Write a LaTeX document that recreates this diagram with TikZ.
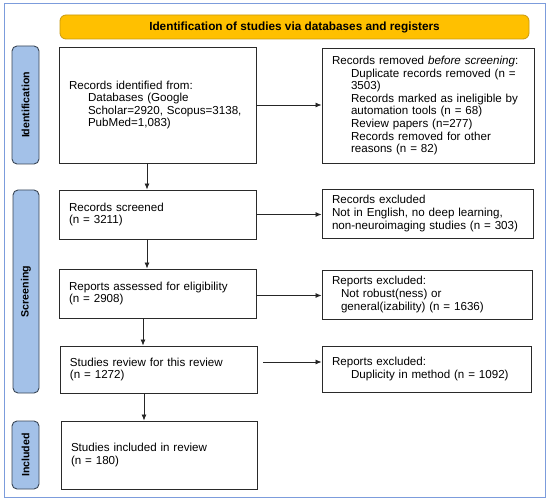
\documentclass[tikz,border=0pt]{standalone}
\usepackage{fontspec}
\setmainfont{Liberation Sans}
\usetikzlibrary{arrows.meta}
\definecolor{framec}{HTML}{7C9CDC}
\definecolor{headfill}{HTML}{FFC000}
\definecolor{headdraw}{HTML}{C99A10}
\definecolor{sidefill}{HTML}{A3C1E8}
\definecolor{sidedraw}{HTML}{3A4656}
\definecolor{boxdraw}{HTML}{2A2A2A}
\newcommand\ind{\hspace*{19pt}}
\tikzset{
  x=1pt, y=-1pt,
  flowbox/.style={draw=boxdraw, line width=0.9pt, fill=white, inner xsep=10pt, inner ysep=0pt,
     align=left, font=\fontsize{11.6}{12.6}\selectfont, anchor=center},
  sidebox/.style={draw=sidedraw, line width=0.9pt, fill=sidefill, rounded corners=5pt,
     rotate=90, inner sep=0pt, font=\fontsize{10.6}{12}\selectfont\bfseries},
  headbox/.style={draw=headdraw, line width=0.8pt, fill=headfill, rounded corners=6pt,
     inner sep=0pt, font=\fontsize{11.8}{13}\selectfont\bfseries},
  arr/.style={draw=black!85, line width=0.8pt, -{Latex[length=6pt,width=5pt]}}
}
\newcommand\fbx[6]{% name, cx, cy, w, h, text
  \node[flowbox, minimum width=#4pt, minimum height=#5pt, text width=#4pt-20pt] (#1) at (#2,#3) {#6};}
\begin{document}
\begin{tikzpicture}
\useasboundingbox (0,0) rectangle (550,503);
\fill[white] (0,0) rectangle (550,503);
\draw[framec, line width=1pt] (4,4) rectangle (545,497);

\node[headbox, minimum width=469pt, minimum height=24pt] (head) at (294.5,27)
  {Identification of studies via databases and registers};

\node[sidebox, minimum width=118pt, minimum height=27pt] (sid) at (25.5,105) {Identification};
\node[sidebox, minimum width=203pt, minimum height=26pt] (sscr) at (26,291.5) {Screening};
\node[sidebox, minimum width=68pt, minimum height=27pt] (sinc) at (25.5,455) {Included};

\fbx{ident}{157.5}{105}{197}{116}{Records identified from:\\
\ind Databases (Google\\
\ind Scholar=2920, Scopus=3138,\\
\ind PubMed=1,083)}
\fbx{removed}{428}{105.5}{212}{115}{Records removed \textit{before screening}:\\
\ind Duplicate records removed (n =\\
\ind 3503)\\
\ind Records marked as ineligible by\\
\ind automation tools (n = 68)\\
\ind Review papers (n=277)\\
\ind Records removed for other\\
\ind reasons (n = 82)}
\fbx{screened}{157.5}{214.5}{197}{49}{Records screened\\(n = 3211)}
\fbx{excla}{427.5}{213.5}{211}{49}{Records excluded\\Not in English, no deep learning,\\non-neuroimaging studies (n = 303)}
\fbx{assessed}{157.5}{293.5}{197}{49}{Reports assessed for eligibility\\(n = 2908)}
\fbx{exclb}{427}{294.5}{210}{49}{Reports excluded:\\
\hspace*{9pt}Not robust(ness) or\\
\hspace*{9pt}general(izability) (n = 1636)}
\fbx{studies}{158.5}{369.5}{197}{47}{Studies review for this review\\(n = 1272)}
\fbx{exclc}{426.5}{369}{209}{46}{Reports excluded:\\
\ind Duplicity in method (n = 1092)}
\fbx{included}{159}{455}{196}{68}{Studies included in review\\(n = 180)}

\draw[arr] (ident.east) -- (removed.west |- ident.east);
\draw[arr] (screened.east) -- (excla.west |- screened.east);
\draw[arr] ([yshift=-2pt]assessed.east) -- ([yshift=-2pt]exclb.west |- assessed.east);
\draw[arr] ([xshift=6pt,yshift=7.5pt]studies.east) -- ([yshift=7.5pt]exclc.west |- studies.east);

\draw[arr] ([xshift=-10.5pt]ident.south) -- ([xshift=-10.5pt]ident.south |- screened.north);
\draw[arr] ([xshift=-10.5pt]screened.south) -- ([xshift=-10.5pt]screened.south |- assessed.north);
\draw[arr] ([xshift=-14.5pt]assessed.south) -- ([xshift=-14.5pt]assessed.south |- studies.north);
\draw[arr] ([xshift=-14.5pt]studies.south) -- ([xshift=-14.5pt]studies.south |- included.north);
\end{tikzpicture}
\end{document}
